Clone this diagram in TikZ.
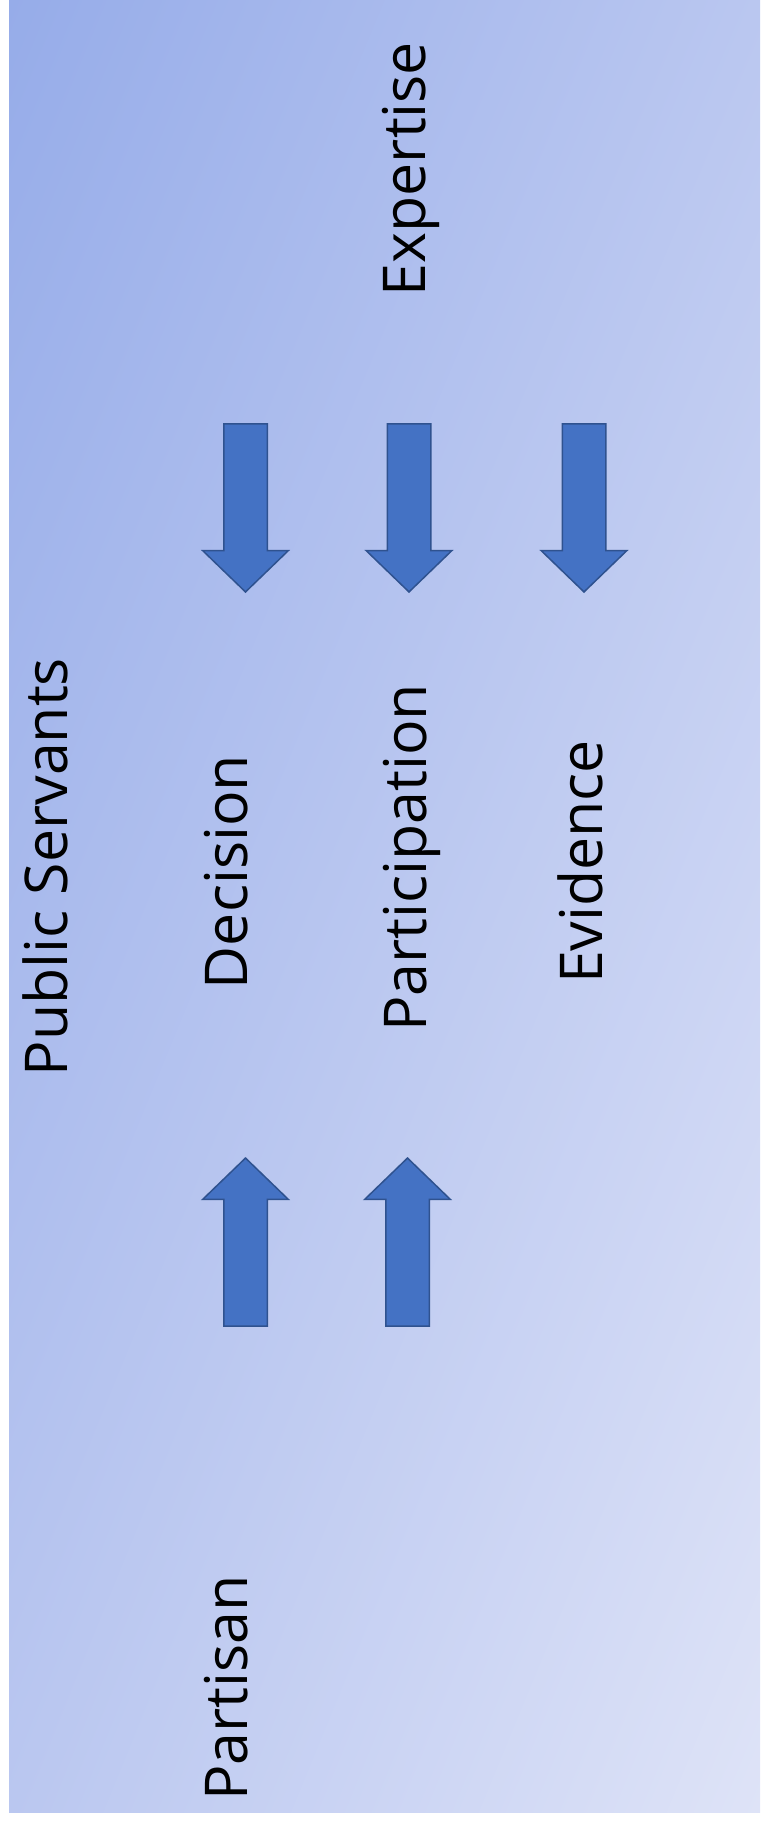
\documentclass[tikz,border=0pt]{standalone}
\usepackage{fontspec}
\setmainfont{Open Sans}
\usetikzlibrary{shapes.arrows,shadings}

\definecolor{bgdark}{HTML}{96ACE9}
\definecolor{bgmid}{HTML}{BAC7F0}
\definecolor{bglight}{HTML}{DEE3F7}
\definecolor{arrowfill}{HTML}{4472C4}
\definecolor{arrowline}{HTML}{2F528F}

\tikzset{every picture/.style={x=0.5pt,y=-0.5pt}}
\tikzset{label text/.style={rotate=90, anchor=base, inner sep=0pt, font=\fontsize{29.5}{36}\selectfont}}
\tikzset{block arrow/.style={single arrow, fill=arrowfill, draw=arrowline, line width=0.75pt,
    minimum height=84pt, inner xsep=0pt, inner ysep=10.5pt, anchor=tip,
    single arrow head extend=10.5pt, single arrow tip angle=92}}
\newcommand{\pointer}[3]{\node[block arrow, rotate=#3] (#1) at #2 {};}

\begin{document}
\begin{tikzpicture}
    \useasboundingbox (0,0) rectangle (760,1824);
    \shade[upper left=bgdark, upper right=bgmid, lower left=bgmid, lower right=bglight]
        (9,0) rectangle (760,1812);

    % labels
    \node[label text] (servants) at (67,867) {Public Servants};
    \node[label text] (expertise) at (425,169) {Expertise};
    \node[label text] (decision) at (247,872) {Decision};
    \node[label text] (participation) at (426,858) {Participation};
    \node[label text] (evidence) at (602,862) {Evidence};
    \node[label text] (partisan) at (247,1688) {Partisan};

    % arrows down from expertise
    \pointer{toDecision}{(245.5,593)}{-90}
    \pointer{toParticipation}{(409,593)}{-90}
    \pointer{toEvidence}{(584,593)}{-90}
    % arrows up from partisan
    \pointer{upDecision}{(245.5,1157)}{90}
    \pointer{upParticipation}{(407.5,1157)}{90}
\end{tikzpicture}
\end{document}
